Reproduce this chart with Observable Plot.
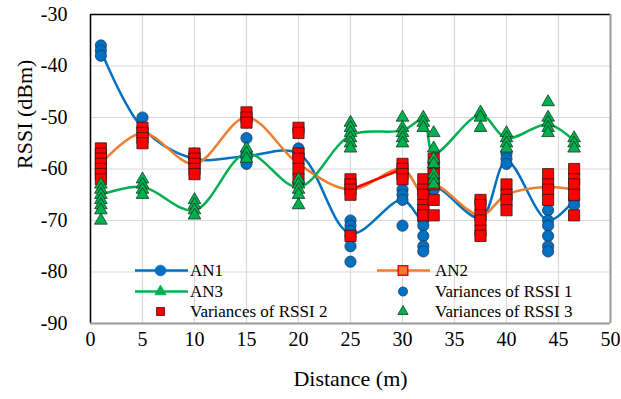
<!DOCTYPE html>
<html><head><meta charset="utf-8">
<script src="https://cdn.jsdelivr.net/npm/d3@7"></script>
<script src="https://cdn.jsdelivr.net/npm/@observablehq/plot@0.6"></script>
<style>body{margin:0;background:#fff} #chart{width:621px;height:399px} #chart svg, #chart svg text{font-family:"Liberation Serif","Times New Roman",serif !important}</style>
</head><body><div id="chart"></div>
<script>
const distances = [1, 5, 10, 15, 20, 25, 30, 32, 33, 37.5, 40, 44, 46.5];
const an1 = [-37, -52, -58, -57.5, -57, -72.5, -66, -70, -63.5, -69.5, -58.5, -70, -66];
const an2 = [-59, -53, -59, -50, -59, -64, -60, -65, -63, -69, -65, -63.5, -64];
const an3 = [-65, -63.5, -68, -57, -63.5, -53.5, -52.5, -50.5, -57, -49.5, -54, -51.3, -54.5];
const rssi1 = [
  [-36, -37, -38], [-50, -52], [-57, -58], [-54, -57, -58, -59], [-56, -57],
  [-70, -71, -72, -73, -75, -78], [-64, -65, -66, -71], [-70, -71, -73, -75, -76],
  [-63, -64], [], [-57, -58, -59], [-68, -70, -71, -73, -75, -76], [-66, -67]
];
const rssi2 = [
  [-56, -57, -58, -59, -60, -61, -62], [-52, -53, -54, -55], [-57, -58, -59, -60, -61],
  [-49, -50, -51], [-52, -53, -57, -58, -60, -62], [-62, -63, -64, -65, -73],
  [-59, -60, -61, -62], [-62, -64, -65, -67, -68, -69], [-58, -60, -61, -63, -66, -69],
  [-66, -67, -69, -70, -72, -73], [-63, -65, -66, -68], [-61, -63, -64, -66],
  [-60, -62, -63, -65, -69]
];
const rssi3 = [
  [-63, -64, -65, -66, -67, -68, -70], [-62, -63, -64, -65], [-66, -67, -68, -69],
  [-56, -57, -58], [-62, -63, -64, -65, -67], [-51, -52, -53, -54, -55, -56],
  [-50, -52, -53, -54, -55], [-50, -51, -52], [-53, -56, -58, -59, -61, -62, -63],
  [-49, -50, -52], [-53, -54, -55, -56], [-47, -50, -51, -52, -53], [-54, -55, -56]
];
const redSegment = [25, 30];
const xTicks = [0, 5, 10, 15, 20, 25, 30, 35, 40, 45, 50];
const yTicks = [-90, -80, -70, -60, -50, -40, -30];
const legendItems = [
  {label: "AN1", kind: "line", color: "#0070C0", symbol: "circle", fill: "#0070C0", stroke: "#0070C0"},
  {label: "AN2", kind: "line", color: "#ED7D31", symbol: "square", fill: "#ED7D31", stroke: "#FF0000"},
  {label: "AN3", kind: "line", color: "#00B050", symbol: "triangle", fill: "#00B050", stroke: "#00B050"},
  {label: "Variances of RSSI 1", kind: "dot", symbol: "circle", fill: "#0070C0", stroke: "#1f3a5a"},
  {label: "Variances of RSSI 2", kind: "dot", symbol: "square", fill: "#FF0000", stroke: "#3a1010"},
  {label: "Variances of RSSI 3", kind: "dot", symbol: "triangle", fill: "#00B050", stroke: "#103a20"}
];

const series = (vals) => distances.map((d, i) => ({x: d, y: vals[i]}));
const flat = (arr) => arr.flatMap((vs, i) => vs.map(v => ({x: distances[i], y: v})));
const an2Red = series(an2).filter(d => d.x >= redSegment[0] && d.x <= redSegment[1]);

const font = "'Liberation Serif', 'Times New Roman', serif";
const plot = Plot.plot({
  width: 621, height: 399,
  marginLeft: 90, marginRight: 11, marginTop: 14, marginBottom: 76,
  style: {fontFamily: font, fontSize: "20px", background: "#fff", color: "#000"},
  x: {domain: [0, 50]},
  y: {domain: [-90, -30]},
  marks: [
    Plot.gridX(xTicks, {stroke: "#d9d9d9", strokeOpacity: 1, strokeWidth: 1.2}),
    Plot.gridY(yTicks, {stroke: "#d9d9d9", strokeOpacity: 1, strokeWidth: 1.2}),
    Plot.axisX(xTicks, {tickSize: 0, tickPadding: 8, label: null, tickFormat: d => String(d), fontSize: 20, fontFamily: font}),
    Plot.axisY(yTicks, {tickSize: 0, tickPadding: 23, label: null, tickFormat: d => String(d), fontSize: 20, fontFamily: font}),
    Plot.line(series(an1), {x: "x", y: "y", stroke: "#0070C0", strokeWidth: 2.5, curve: "catmull-rom"}),
    Plot.line(series(an2), {x: "x", y: "y", stroke: "#ED7D31", strokeWidth: 2.5, curve: "catmull-rom"}),
    Plot.line(an2Red, {x: "x", y: "y", stroke: "#FF0000", strokeWidth: 2.5, curve: "catmull-rom"}),
    Plot.line(series(an3), {x: "x", y: "y", stroke: "#00B050", strokeWidth: 2.5, curve: "catmull-rom"}),
    Plot.dot(flat(rssi1), {x: "x", y: "y", r: 5.6, fill: "#0070C0", stroke: "#1f3a5a", strokeWidth: 0.8}),
    Plot.dot(flat(rssi2), {x: "x", y: "y", symbol: "square", r: 6.3, fill: "#FF0000", stroke: "#3a1010", strokeWidth: 0.8}),
    Plot.dot(flat(rssi3), {x: "x", y: "y", symbol: "triangle", r: 4.7, fill: "#00B050", stroke: "#103a20", strokeWidth: 0.8}),
    Plot.ruleY([-30], {stroke: "#000", strokeWidth: 1.5}),
    Plot.ruleX([0], {stroke: "#000", strokeWidth: 1.5}),
    Plot.ruleX([50], {stroke: "#999", strokeWidth: 2}),
    Plot.ruleY([-90], {stroke: "#999", strokeWidth: 2}),
    Plot.text(["Distance (m)"], {frameAnchor: "bottom", dy: 62, fontSize: 22, fontFamily: font, fill: "#000"}),
    Plot.text(["RSSI (dBm)"], {frameAnchor: "left", dx: -66, rotate: -90, fontSize: 22, fontFamily: font, fill: "#000"})
  ]
});
document.getElementById("chart").appendChild(plot);

// legend drawn inside the plot area
const svg = d3.select(plot);
const g = svg.append("g").attr("font-family", font).attr("font-size", 17).attr("text-anchor", "start");
const cols = [{lx0: 135, lx1: 188, mx: 160.5, tx: 190}, {lx0: 377, lx1: 430, mx: 403, tx: 435}];
const rows = [270.5, 291.5, 311.5];
legendItems.forEach((it, k) => {
  const c = cols[k % 2], y = rows[Math.floor(k / 2)];
  if (it.kind === "line") {
    g.append("line").attr("x1", c.lx0).attr("x2", c.lx1).attr("y1", y).attr("y2", y)
      .attr("stroke", it.color).attr("stroke-width", 2.5);
  }
  const symType = {circle: d3.symbolCircle, square: d3.symbolSquare, triangle: d3.symbolTriangle}[it.symbol];
  const size = it.kind === "line" ? (it.symbol === "triangle" ? 55 : 90) : (it.symbol === "triangle" ? 45 : 65);
  g.append("path").attr("d", d3.symbol(symType, size)())
    .attr("transform", `translate(${c.mx},${y})`)
    .attr("fill", it.fill).attr("stroke", it.stroke).attr("stroke-width", it.symbol === "square" && it.kind === "line" ? 1.5 : 0.8);
  g.append("text").attr("x", c.tx).attr("y", y).attr("dy", "0.35em").attr("text-anchor", "start").attr("fill", "#000").text(it.label);
});
</script>
</body></html>
